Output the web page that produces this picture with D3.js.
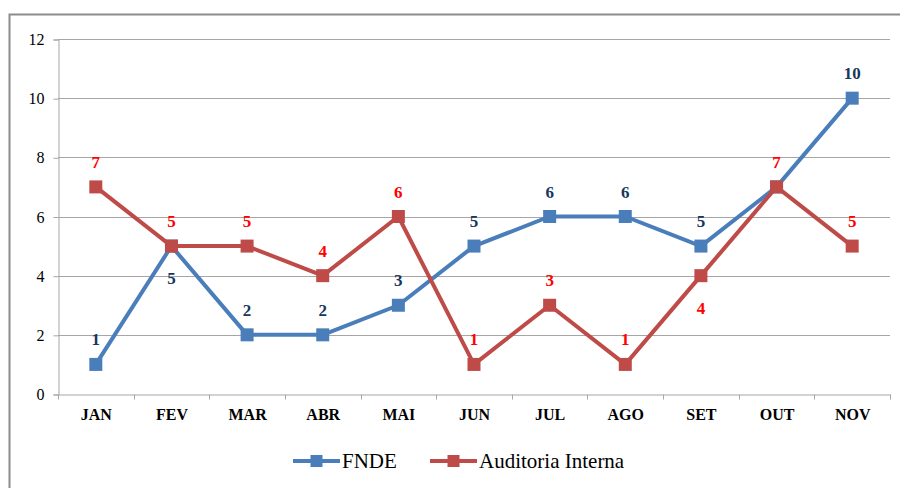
<!DOCTYPE html>
<html>
<head>
<meta charset="utf-8">
<script src="https://cdn.jsdelivr.net/npm/d3@7"></script>
</head>
<body style="margin:0">
<script>
// chart data
const months = ["JAN", "FEV", "MAR", "ABR", "MAI", "JUN", "JUL", "AGO", "SET", "OUT", "NOV"];
const fnde = [1, 5, 2, 2, 3, 5, 6, 6, 5, 7, 10];
const auditoria = [7, 5, 5, 4, 6, 1, 3, 1, 4, 7, 5];
const yTicks = [0, 2, 4, 6, 8, 10, 12];

// label side per point: -1 above, +1 below, 0 hidden
const fndeLabelSide = [-1, 1, -1, -1, -1, -1, -1, -1, -1, 0, -1];
const auditLabelSide = [-1, -1, -1, -1, -1, -1, -1, -1, 1, -1, -1];

const FONT = "Liberation Serif";

const width = 900;
const height = 488;
const marginTop = 39;
const marginRight = 10;
const marginBottom = 94;
const marginLeft = 58;

const series = [
  { name: "FNDE", values: fnde, sides: fndeLabelSide, color: "#4A7EBB", labelColor: "#17375E" },
  { name: "Auditoria Interna", values: auditoria, sides: auditLabelSide, color: "#BE4B48", labelColor: "#FF0000" }
];

const x = d3.scaleBand()
    .domain(months)
    .range([marginLeft, width - marginRight])
    .padding(0);

const y = d3.scaleLinear()
    .domain([0, 12])
    .range([height - marginBottom, marginTop]);

const svg = d3.select("body").append("svg")
    .attr("width", width)
    .attr("height", height);

// outer frame
svg.append("rect")
    .attr("x", 9.5)
    .attr("y", 14.5)
    .attr("width", width + 20)
    .attr("height", height)
    .attr("fill", "none")
    .attr("stroke", "#8c8c8c")
    .attr("stroke-width", 2);

// gridlines
svg.append("g")
  .selectAll("line")
  .data(yTicks.filter(d => d > 0))
  .join("line")
    .attr("x1", marginLeft)
    .attr("x2", width - marginRight)
    .attr("y1", d => Math.round(y(d)) + 0.5)
    .attr("y2", d => Math.round(y(d)) + 0.5)
    .attr("stroke", "#a6a6a6")
    .attr("stroke-width", 1);

// y axis
const yAxis = svg.append("g")
    .attr("transform", `translate(${marginLeft + 0.5},0.5)`)
    .call(d3.axisLeft(y).tickValues(yTicks).tickSize(5).tickPadding(9).tickFormat(d3.format("d")));
yAxis.attr("font-family", FONT).attr("font-size", 16);
yAxis.selectAll("path, line").attr("stroke", "#a6a6a6");
yAxis.selectAll("text")
    .attr("fill", "#000");

// x axis
const xAxis = svg.append("g")
    .attr("transform", `translate(0.5,${Math.round(y(0)) + 0.5})`)
    .call(d3.axisBottom(x).tickSize(0).tickPadding(14));
xAxis.attr("font-family", FONT).attr("font-size", 16).attr("font-weight", "bold");
xAxis.select(".domain").attr("stroke", "#a6a6a6");
xAxis.selectAll("text")
    .attr("fill", "#000");
// boundary ticks between categories
xAxis.append("g")
  .selectAll("line")
  .data(months.map(m => x(m)).concat([x(months[months.length - 1]) + x.bandwidth()]))
  .join("line")
    .attr("x1", d => Math.round(d))
    .attr("x2", d => Math.round(d))
    .attr("y1", 0)
    .attr("y2", 5)
    .attr("stroke", "#a6a6a6");

const cx = m => x(m) + x.bandwidth() / 2;

const line = d3.line()
    .x((d, i) => cx(months[i]))
    .y(d => y(d));

series.forEach(s => {
  const g = svg.append("g");
  g.append("path")
      .attr("fill", "none")
      .attr("stroke", s.color)
      .attr("stroke-width", 4)
      .attr("stroke-linejoin", "round")
      .attr("d", line(s.values));
  g.selectAll("rect")
    .data(s.values)
    .join("rect")
      .attr("x", (d, i) => cx(months[i]) - 6.5)
      .attr("y", d => y(d) - 6.5)
      .attr("width", 13)
      .attr("height", 13)
      .attr("fill", s.color);
});

// data labels
series.forEach(s => {
  svg.append("g")
    .attr("font-family", FONT)
    .attr("font-size", 17)
    .attr("font-weight", "bold")
    .attr("fill", s.labelColor)
    .attr("text-anchor", "middle")
    .selectAll("text")
    .data(s.values.map((v, i) => ({ v, i, side: s.sides[i] })).filter(d => d.side !== 0))
    .join("text")
      .attr("x", d => cx(months[d.i]))
      .attr("y", d => y(d.v) + (d.side < 0 ? -19 : 38))
      .text(d => d.v);
});

// legend
const legend = svg.append("g")
    .attr("transform", "translate(0,461)")
    .attr("font-family", FONT)
    .attr("font-size", 21);
const legendItems = [
  { s: series[0], x0: 293, tx: 342 },
  { s: series[1], x0: 430, tx: 479 }
];
legendItems.forEach(li => {
  legend.append("line")
      .attr("x1", li.x0)
      .attr("x2", li.x0 + 47)
      .attr("stroke", li.s.color)
      .attr("stroke-width", 4);
  legend.append("rect")
      .attr("x", li.x0 + 23.5 - 6)
      .attr("y", -6)
      .attr("width", 12)
      .attr("height", 12)
      .attr("fill", li.s.color);
  legend.append("text")
      .attr("x", li.tx)
      .attr("y", 7)
      .attr("fill", "#000")
      .text(li.s.name);
});
</script>
</body>
</html>
